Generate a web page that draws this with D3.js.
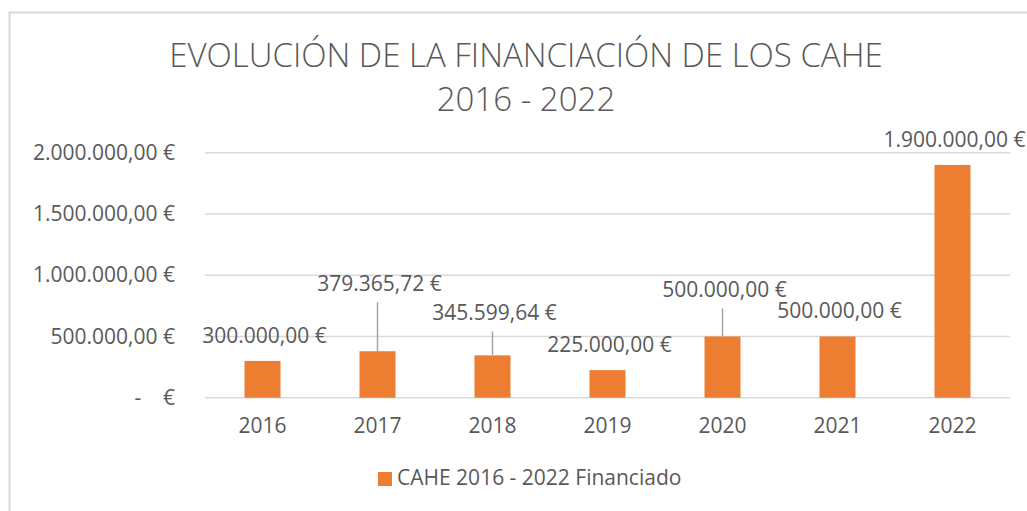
<!DOCTYPE html>
<html>
<head>
<meta charset="utf-8">
<script src="https://cdn.jsdelivr.net/npm/d3@7"></script>
<style>
  html, body { margin: 0; padding: 0; background: #fff; }
  svg { display: block; font-family: "Open Sans", sans-serif; }
</style>
</head>
<body>
<div id="chart"></div>
<script>
(function () {
  'use strict';

  // Data
  var years   = ['2016', '2017', '2018', '2019', '2020', '2021', '2022'];
  var amounts = [300000, 379365.72, 345599.64, 225000, 500000, 500000, 1900000];
  var yTicks  = [0, 500000, 1000000, 1500000, 2000000];
  var titleLines  = ['EVOLUCIÓN DE LA FINANCIACIÓN DE LOS CAHE', '2016 - 2022'];
  var seriesName  = 'CAHE 2016 - 2022 Financiado';

  // Layout: how far each data label sits above its bar top (px), and which get a leader line
  var labelLift  = [24, 66, 41, 24, 45, 24, 24];
  var hasLeader  = [false, true, true, false, true, false, false];

  var W = 1027, H = 511;
  var orange = '#ED7D31', textGray = '#595959', gridGray = '#D9D9D9';
  var fontPx = '21px';

  var svg = d3.select('#chart').append('svg')
    .attr('width', W).attr('height', H);

  svg.append('rect').attr('width', W).attr('height', H).attr('fill', '#fff');

  // Chart frame (only top/left visible in the crop)
  svg.append('rect')
    .attr('x', 9.5).attr('y', 12.5)
    .attr('width', W + 20).attr('height', H + 20)
    .attr('fill', 'none').attr('stroke', gridGray).attr('stroke-width', 2);

  // Scales
  var x = d3.scaleBand().domain(years).range([205, 1010])
    .paddingInner(0.687).paddingOuter(0.3435);
  var y = d3.scaleLinear().domain([0, 2000000]).range([397.7, 152.7]);

  var loc = d3.formatLocale({ decimal: ',', thousands: '.', grouping: [3], currency: ['', ' €'] });
  var fmt = loc.format(',.2f');
  function euro(v) { return v === 0 ? '-    €' : fmt(v) + ' €'; }

  // Title
  svg.append('g').selectAll('text')
    .data(titleLines)
    .join('text')
    .attr('x', 526)
    .attr('y', function (d, i) { return i === 0 ? 66.5 : 111; })
    .attr('text-anchor', 'middle')
    .attr('fill', textGray)
    .attr('font-size', '33px')
    .attr('font-weight', 300)
    .text(function (d) { return d; });

  // Gridlines
  svg.append('g').selectAll('line')
    .data(yTicks)
    .join('line')
    .attr('x1', 205).attr('x2', 1010)
    .attr('y1', function (d) { return y(d); })
    .attr('y2', function (d) { return y(d); })
    .attr('stroke', gridGray).attr('stroke-width', 1.5);

  // Y axis labels
  var yAxis = d3.axisLeft(y).tickValues(yTicks).tickSize(0).tickPadding(0).tickFormat(euro);
  svg.append('g')
    .attr('transform', 'translate(175,0)')
    .call(yAxis)
    .call(function (g) { g.select('.domain').remove(); })
    .call(function (g) {
      g.selectAll('text')
        .attr('fill', textGray)
        .attr('font-size', fontPx)
        .attr('font-family', '"Open Sans", sans-serif')
        .style('white-space', 'pre');
    });

  // X axis labels
  var xAxis = d3.axisBottom(x).tickSize(0).tickPadding(0);
  svg.append('g')
    .attr('transform', 'translate(0,427)')
    .call(xAxis)
    .call(function (g) { g.select('.domain').remove(); })
    .call(function (g) {
      g.selectAll('text')
        .attr('dy', 0).attr('y', 0)
        .attr('dominant-baseline', 'middle')
        .attr('fill', textGray)
        .attr('font-size', fontPx)
        .attr('font-family', '"Open Sans", sans-serif');
    });

  var rows = years.map(function (yr, i) {
    return { year: yr, value: amounts[i], lift: labelLift[i], leader: hasLeader[i] };
  });

  // Bars
  svg.append('g').selectAll('rect')
    .data(rows)
    .join('rect')
    .attr('x', function (d) { return x(d.year); })
    .attr('width', x.bandwidth())
    .attr('y', function (d) { return y(d.value); })
    .attr('height', function (d) { return y(0) - y(d.value); })
    .attr('fill', orange);

  // Leader lines
  svg.append('g').selectAll('line')
    .data(rows.filter(function (d) { return d.leader; }))
    .join('line')
    .attr('x1', function (d) { return x(d.year) + x.bandwidth() / 2; })
    .attr('x2', function (d) { return x(d.year) + x.bandwidth() / 2; })
    .attr('y1', function (d) { return y(d.value) - d.lift + 17; })
    .attr('y2', function (d) { return y(d.value); })
    .attr('stroke', '#A6A6A6').attr('stroke-width', 1.5);

  // Data labels
  svg.append('g').selectAll('text')
    .data(rows)
    .join('text')
    .attr('x', function (d) { return x(d.year) + x.bandwidth() / 2 + 2; })
    .attr('y', function (d) { return y(d.value) - d.lift; })
    .attr('dominant-baseline', 'middle')
    .attr('text-anchor', 'middle')
    .attr('fill', textGray)
    .attr('font-size', fontPx)
    .text(function (d) { return euro(d.value); });

  // Legend
  var legend = svg.append('g').attr('transform', 'translate(378,472)');
  legend.append('rect').attr('width', 14).attr('height', 14).attr('fill', orange);
  legend.append('text')
    .attr('x', 19).attr('y', 7.5)
    .attr('dominant-baseline', 'middle')
    .attr('fill', textGray)
    .attr('font-size', fontPx)
    .text(seriesName);
})();
</script>
</body>
</html>
